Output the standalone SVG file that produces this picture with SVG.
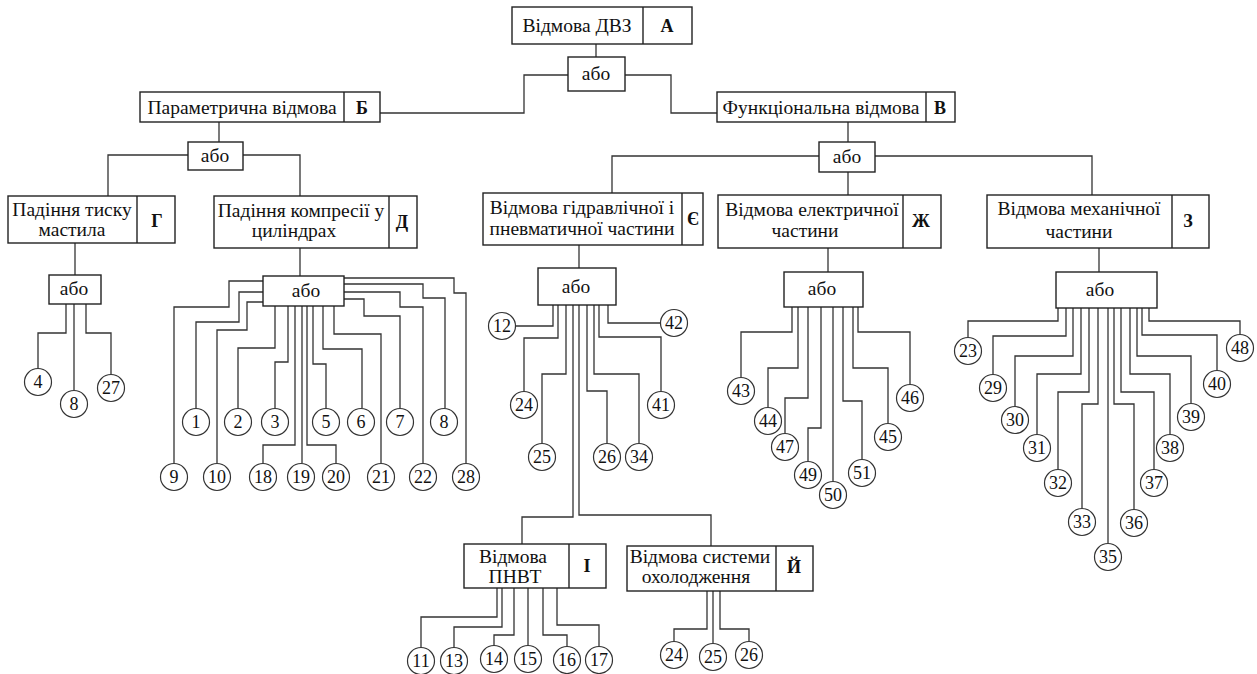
<svg xmlns="http://www.w3.org/2000/svg" width="1257" height="674" viewBox="0 0 1257 674">
<style>
.bx{fill:#fff;stroke:#222;stroke-width:1.4}
.dv{stroke:#222;stroke-width:1.4}
.t{font-family:"Liberation Serif","Times New Roman","DejaVu Serif",serif;font-size:19.5px;fill:#111;text-anchor:middle}
.b{font-family:"Liberation Serif","Times New Roman","DejaVu Serif",serif;font-size:18px;font-weight:bold;fill:#111;text-anchor:middle}
.c{fill:#fff;stroke:#333;stroke-width:1.2}
.n{font-family:"Liberation Serif","Times New Roman","DejaVu Serif",serif;font-size:18px;fill:#111;text-anchor:middle}
#connectors polyline{fill:none;stroke:#333;stroke-width:1.3}
</style>
<rect width="1257" height="674" fill="#fff"/>
<g id="connectors">
<polyline points="596,44 596,57"/>
<polyline points="568,75 524,75 524,113 380,113"/>
<polyline points="625,75 671,75 671,113 717,113"/>
<polyline points="219,122 219,142"/>
<polyline points="188,155 108,155 108,196"/>
<polyline points="243,155 300,155 300,196"/>
<polyline points="848,122 848,142"/>
<polyline points="819,156 612,156 612,193"/>
<polyline points="875,156 1092,156 1092,195"/>
<polyline points="848,172 848,195"/>
<polyline points="75,243 75,275"/>
<polyline points="66,304 66,333 38,333 38,368"/>
<polyline points="74,304 74,390"/>
<polyline points="86,304 86,333 111,333 111,374"/>
<polyline points="300,248 300,276"/>
<polyline points="263,281 229,281 229,307 174,307 174,463"/>
<polyline points="263,292 239,292 239,322 196,322 196,408"/>
<polyline points="263,302 247,302 247,330 217,330 217,463"/>
<polyline points="275,306 275,348 238,348 238,408"/>
<polyline points="288,306 288,362 275,362 275,408"/>
<polyline points="295,306 295,445 263,445 263,463"/>
<polyline points="302,306 302,463"/>
<polyline points="307,306 307,445 336,445 336,463"/>
<polyline points="313,306 313,364 326,364 326,408"/>
<polyline points="323,306 323,349 362,349 362,408"/>
<polyline points="334,306 334,334 381,334 381,463"/>
<polyline points="344,299 364,299 364,316 400,316 400,408"/>
<polyline points="344,292 400,292 400,307 423,307 423,463"/>
<polyline points="344,284 423,284 423,298 445,298 445,408"/>
<polyline points="344,278 454,278 454,293 466,293 466,463"/>
<polyline points="579,245 579,268"/>
<polyline points="553,305 553,326 516,326"/>
<polyline points="558,305 558,338 524,338 524,391"/>
<polyline points="566,305 566,374 542,374 542,443"/>
<polyline points="573,305 573,517 522,517 522,544"/>
<polyline points="579,305 579,515 711,515 711,546"/>
<polyline points="587,305 587,391 607,391 607,443"/>
<polyline points="594,305 594,374 639,374 639,443"/>
<polyline points="599,305 599,337 661,337 661,391"/>
<polyline points="608,305 608,323 660,323"/>
<polyline points="828,248 828,272"/>
<polyline points="792,307 792,332 741,332 741,377"/>
<polyline points="798,307 798,368 768,368 768,407"/>
<polyline points="808,307 808,398 785,398 785,433"/>
<polyline points="821,307 821,428 808,428 808,461"/>
<polyline points="833,307 833,481"/>
<polyline points="843,307 843,401 862,401 862,459"/>
<polyline points="853,307 853,368 888,368 888,423"/>
<polyline points="858,307 858,332 910,332 910,384"/>
<polyline points="1099,248 1099,272"/>
<polyline points="1058,308 1058,321 968,321 968,337"/>
<polyline points="1066,308 1066,336 993,336 993,374"/>
<polyline points="1073,308 1073,356 1015,356 1015,406"/>
<polyline points="1081,308 1081,374 1037,374 1037,434"/>
<polyline points="1089,308 1089,392 1058,392 1058,469"/>
<polyline points="1098,308 1098,404 1082,404 1082,508"/>
<polyline points="1108,308 1108,543"/>
<polyline points="1114,308 1114,404 1134,404 1134,509"/>
<polyline points="1121,308 1121,392 1154,392 1154,469"/>
<polyline points="1130,308 1130,374 1170,374 1170,434"/>
<polyline points="1137,308 1137,356 1191,356 1191,403"/>
<polyline points="1142,308 1142,335 1217,335 1217,370"/>
<polyline points="1149,308 1149,321 1240,321 1240,334"/>
<polyline points="497,588 497,617 421,617 421,648"/>
<polyline points="502,588 502,627 454,627 454,648"/>
<polyline points="514,588 514,635 494,635 494,646"/>
<polyline points="528,588 528,646"/>
<polyline points="543,588 543,635 567,635 567,647"/>
<polyline points="557,588 557,625 599,625 599,647"/>
<polyline points="707,591 707,629 674,629 674,641"/>
<polyline points="713,591 713,643"/>
<polyline points="720,591 720,629 749,629 749,641"/>
</g>
<g id="A"><rect class="bx" x="512" y="7" width="180" height="37"/><line class="dv" x1="643" y1="7" x2="643" y2="44"/><text class="t" x="577" y="32">Відмова ДВЗ</text><text class="b" x="667" y="32">А</text></g>
<g id="or-A"><rect class="bx" x="568" y="57" width="57" height="34"/><text class="t" x="596" y="80">або</text></g>
<g id="B"><rect class="bx" x="140" y="92" width="240" height="30"/><line class="dv" x1="344" y1="92" x2="344" y2="122"/><text class="t" x="242" y="114">Параметрична відмова</text><text class="b" x="362" y="114">Б</text></g>
<g id="V"><rect class="bx" x="717" y="92" width="238" height="30"/><line class="dv" x1="926" y1="92" x2="926" y2="122"/><text class="t" x="821" y="114">Функціональна відмова</text><text class="b" x="940" y="114">В</text></g>
<g id="or-B"><rect class="bx" x="188" y="142" width="55" height="28"/><text class="t" x="215" y="162">або</text></g>
<g id="or-V"><rect class="bx" x="819" y="142" width="56" height="30"/><text class="t" x="847" y="163">або</text></g>
<g id="G"><rect class="bx" x="8" y="196" width="167" height="47"/><line class="dv" x1="137" y1="196" x2="137" y2="243"/><text class="t" x="72" y="216">Падіння тиску</text><text class="t" x="72" y="236">мастила</text><text class="b" x="157" y="227">Г</text></g>
<g id="D"><rect class="bx" x="214" y="196" width="203" height="52"/><line class="dv" x1="389" y1="196" x2="389" y2="248"/><text class="t" x="301" y="217">Падіння компресії у</text><text class="t" x="294" y="237">циліндрах</text><text class="b" x="402" y="228">Д</text></g>
<g id="E"><rect class="bx" x="483" y="193" width="220" height="52"/><line class="dv" x1="682" y1="193" x2="682" y2="245"/><text class="t" x="582" y="214">Відмова гідравлічної і</text><text class="t" x="582" y="235">пневматичної частини</text><text class="b" x="693" y="225">Є</text></g>
<g id="Zh"><rect class="bx" x="718" y="195" width="223" height="53"/><line class="dv" x1="903" y1="195" x2="903" y2="248"/><text class="t" x="812" y="216">Відмова електричної</text><text class="t" x="805" y="237">частини</text><text class="b" x="921" y="227">Ж</text></g>
<g id="Z"><rect class="bx" x="987" y="195" width="222" height="53"/><line class="dv" x1="1172" y1="195" x2="1172" y2="248"/><text class="t" x="1079" y="215">Відмова механічної</text><text class="t" x="1079" y="238">частини</text><text class="b" x="1188" y="227">З</text></g>
<g id="or-G"><rect class="bx" x="49" y="275" width="52" height="29"/><text class="t" x="74" y="295">або</text></g>
<g id="or-D"><rect class="bx" x="263" y="276" width="81" height="30"/><text class="t" x="306" y="297">або</text></g>
<g id="or-E"><rect class="bx" x="538" y="268" width="78" height="37"/><text class="t" x="576" y="293">або</text></g>
<g id="or-Zh"><rect class="bx" x="784" y="272" width="79" height="35"/><text class="t" x="822" y="295">або</text></g>
<g id="or-Z"><rect class="bx" x="1056" y="272" width="101" height="36"/><text class="t" x="1100" y="296">або</text></g>
<g id="I"><rect class="bx" x="464" y="544" width="142" height="44"/><line class="dv" x1="569" y1="544" x2="569" y2="588"/><text class="t" x="513" y="563">Відмова</text><text class="t" x="515" y="583">ПНВТ</text><text class="b" x="587" y="572">І</text></g>
<g id="J"><rect class="bx" x="627" y="546" width="186" height="45"/><line class="dv" x1="776" y1="546" x2="776" y2="591"/><text class="t" x="700" y="563">Відмова системи</text><text class="t" x="696" y="583">охолодження</text><text class="b" x="794" y="573">Й</text></g>
<g id="e4"><circle class="c" cx="38" cy="382" r="13.5"/><text class="n" x="38" y="388">4</text></g>
<g id="e8a"><circle class="c" cx="74" cy="404" r="13.5"/><text class="n" x="74" y="410">8</text></g>
<g id="e27"><circle class="c" cx="111" cy="388" r="13.5"/><text class="n" x="111" y="394">27</text></g>
<g id="e1"><circle class="c" cx="196" cy="422" r="13.5"/><text class="n" x="196" y="428">1</text></g>
<g id="e2"><circle class="c" cx="238" cy="422" r="13.5"/><text class="n" x="238" y="428">2</text></g>
<g id="e3"><circle class="c" cx="275" cy="422" r="13.5"/><text class="n" x="275" y="428">3</text></g>
<g id="e5"><circle class="c" cx="326" cy="422" r="13.5"/><text class="n" x="326" y="428">5</text></g>
<g id="e6"><circle class="c" cx="361" cy="422" r="13.5"/><text class="n" x="361" y="428">6</text></g>
<g id="e7"><circle class="c" cx="400" cy="422" r="13.5"/><text class="n" x="400" y="428">7</text></g>
<g id="e8b"><circle class="c" cx="444" cy="422" r="13.5"/><text class="n" x="444" y="428">8</text></g>
<g id="e9"><circle class="c" cx="174" cy="477" r="13.5"/><text class="n" x="174" y="483">9</text></g>
<g id="e10"><circle class="c" cx="217" cy="477" r="13.5"/><text class="n" x="217" y="483">10</text></g>
<g id="e18"><circle class="c" cx="263" cy="477" r="13.5"/><text class="n" x="263" y="483">18</text></g>
<g id="e19"><circle class="c" cx="301" cy="477" r="13.5"/><text class="n" x="301" y="483">19</text></g>
<g id="e20"><circle class="c" cx="336" cy="477" r="13.5"/><text class="n" x="336" y="483">20</text></g>
<g id="e21"><circle class="c" cx="381" cy="477" r="13.5"/><text class="n" x="381" y="483">21</text></g>
<g id="e22"><circle class="c" cx="423" cy="477" r="13.5"/><text class="n" x="423" y="483">22</text></g>
<g id="e28"><circle class="c" cx="466" cy="477" r="13.5"/><text class="n" x="466" y="483">28</text></g>
<g id="e12"><circle class="c" cx="502" cy="326" r="13.5"/><text class="n" x="502" y="332">12</text></g>
<g id="e24a"><circle class="c" cx="524" cy="405" r="13.5"/><text class="n" x="524" y="411">24</text></g>
<g id="e25a"><circle class="c" cx="542" cy="457" r="13.5"/><text class="n" x="542" y="463">25</text></g>
<g id="e26a"><circle class="c" cx="607" cy="457" r="13.5"/><text class="n" x="607" y="463">26</text></g>
<g id="e34"><circle class="c" cx="639" cy="457" r="13.5"/><text class="n" x="639" y="463">34</text></g>
<g id="e41"><circle class="c" cx="661" cy="405" r="13.5"/><text class="n" x="661" y="411">41</text></g>
<g id="e42"><circle class="c" cx="674" cy="323" r="13.5"/><text class="n" x="674" y="329">42</text></g>
<g id="e43"><circle class="c" cx="741" cy="391" r="13.5"/><text class="n" x="741" y="397">43</text></g>
<g id="e44"><circle class="c" cx="768" cy="421" r="13.5"/><text class="n" x="768" y="427">44</text></g>
<g id="e47"><circle class="c" cx="785" cy="447" r="13.5"/><text class="n" x="785" y="453">47</text></g>
<g id="e49"><circle class="c" cx="808" cy="475" r="13.5"/><text class="n" x="808" y="481">49</text></g>
<g id="e50"><circle class="c" cx="833" cy="495" r="13.5"/><text class="n" x="833" y="501">50</text></g>
<g id="e51"><circle class="c" cx="862" cy="473" r="13.5"/><text class="n" x="862" y="479">51</text></g>
<g id="e45"><circle class="c" cx="888" cy="437" r="13.5"/><text class="n" x="888" y="443">45</text></g>
<g id="e46"><circle class="c" cx="910" cy="398" r="13.5"/><text class="n" x="910" y="404">46</text></g>
<g id="e23"><circle class="c" cx="968" cy="351" r="13.5"/><text class="n" x="968" y="357">23</text></g>
<g id="e29"><circle class="c" cx="993" cy="388" r="13.5"/><text class="n" x="993" y="394">29</text></g>
<g id="e30"><circle class="c" cx="1015" cy="420" r="13.5"/><text class="n" x="1015" y="426">30</text></g>
<g id="e31"><circle class="c" cx="1037" cy="448" r="13.5"/><text class="n" x="1037" y="454">31</text></g>
<g id="e32"><circle class="c" cx="1058" cy="483" r="13.5"/><text class="n" x="1058" y="489">32</text></g>
<g id="e33"><circle class="c" cx="1082" cy="522" r="13.5"/><text class="n" x="1082" y="528">33</text></g>
<g id="e35"><circle class="c" cx="1108" cy="557" r="13.5"/><text class="n" x="1108" y="563">35</text></g>
<g id="e36"><circle class="c" cx="1134" cy="523" r="13.5"/><text class="n" x="1134" y="529">36</text></g>
<g id="e37"><circle class="c" cx="1154" cy="483" r="13.5"/><text class="n" x="1154" y="489">37</text></g>
<g id="e38"><circle class="c" cx="1170" cy="448" r="13.5"/><text class="n" x="1170" y="454">38</text></g>
<g id="e39"><circle class="c" cx="1191" cy="417" r="13.5"/><text class="n" x="1191" y="423">39</text></g>
<g id="e40"><circle class="c" cx="1217" cy="384" r="13.5"/><text class="n" x="1217" y="390">40</text></g>
<g id="e48"><circle class="c" cx="1240" cy="348" r="13.5"/><text class="n" x="1240" y="354">48</text></g>
<g id="e11"><circle class="c" cx="421" cy="661" r="13.5"/><text class="n" x="421" y="667">11</text></g>
<g id="e13"><circle class="c" cx="454" cy="661" r="13.5"/><text class="n" x="454" y="667">13</text></g>
<g id="e14"><circle class="c" cx="494" cy="659" r="13.5"/><text class="n" x="494" y="665">14</text></g>
<g id="e15"><circle class="c" cx="528" cy="659" r="13.5"/><text class="n" x="528" y="665">15</text></g>
<g id="e16"><circle class="c" cx="567" cy="660" r="13.5"/><text class="n" x="567" y="666">16</text></g>
<g id="e17"><circle class="c" cx="599" cy="660" r="13.5"/><text class="n" x="599" y="666">17</text></g>
<g id="e24b"><circle class="c" cx="674" cy="655" r="13.5"/><text class="n" x="674" y="661">24</text></g>
<g id="e25b"><circle class="c" cx="713" cy="657" r="13.5"/><text class="n" x="713" y="663">25</text></g>
<g id="e26b"><circle class="c" cx="749" cy="655" r="13.5"/><text class="n" x="749" y="661">26</text></g>
</svg>
